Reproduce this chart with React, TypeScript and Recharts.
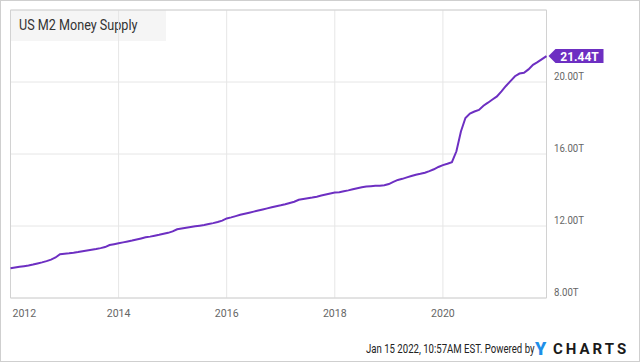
import React from 'react';
import {
  LineChart,
  Line,
  XAxis,
  YAxis,
  CartesianGrid,
  ReferenceArea,
  ReferenceDot,
} from 'recharts';

// M2, trillions USD, monthly
const years = [2012, 2013, 2014, 2015, 2016, 2017, 2018, 2019, 2020, 2021];
const m2_2012 = [9.65, 9.69, 9.73, 9.77, 9.81, 9.86, 9.92, 9.98, 10.05, 10.13, 10.25, 10.43];
const m2_2013 = [10.46, 10.48, 10.51, 10.55, 10.6, 10.64, 10.68, 10.72, 10.77, 10.83, 10.94, 10.99];
const m2_2014 = [11.04, 11.09, 11.14, 11.19, 11.25, 11.31, 11.37, 11.41, 11.46, 11.51, 11.57, 11.62];
const m2_2015 = [11.7, 11.82, 11.86, 11.9, 11.94, 11.98, 12.02, 12.06, 12.11, 12.16, 12.22, 12.3];
const m2_2016 = [12.42, 12.48, 12.55, 12.62, 12.68, 12.74, 12.8, 12.86, 12.92, 12.98, 13.04, 13.1];
const m2_2017 = [13.15, 13.21, 13.28, 13.35, 13.46, 13.5, 13.54, 13.58, 13.63, 13.69, 13.75, 13.81];
const m2_2018 = [13.86, 13.88, 13.93, 13.98, 14.04, 14.1, 14.15, 14.19, 14.21, 14.23, 14.24, 14.26];
const m2_2019 = [14.33, 14.45, 14.56, 14.62, 14.7, 14.78, 14.85, 14.9, 14.96, 15.05, 15.15, 15.28];
const m2_2020 = [15.38, 15.46, 15.55, 16.15, 17.25, 18.0, 18.25, 18.36, 18.45, 18.68, 18.85, 19.03];
const m2_2021 = [19.2, 19.48, 19.78, 20.05, 20.32, 20.47, 20.51, 20.7, 20.95, 21.1, 21.27, 21.44];

const xTicks = [2012, 2014, 2016, 2018, 2020];
const yTicks = [8, 12, 16, 20];

const series = [m2_2012, m2_2013, m2_2014, m2_2015, m2_2016, m2_2017, m2_2018, m2_2019, m2_2020, m2_2021];
const data = years.flatMap((yr, i) => series[i].map((v, m) => ({ t: yr + m / 12, v })));
const last = data[data.length - 1];

const PURPLE = '#6d2fc2';
const FONT = 'Roboto, "Open Sans", sans-serif';

function XTick(props: any) {
  const { x, y, payload } = props;
  const first = payload.value === xTicks[0];
  return (
    <g transform={`translate(${first ? x + 2 : x},${y + 18.5}) scale(0.92,1)`}>
      <text x={0} y={0} textAnchor={first ? 'start' : 'middle'} fill="#666" fontSize={11.5} fontFamily={FONT}>
        {payload.value}
      </text>
    </g>
  );
}

function YTick(props: any) {
  const { x, y, payload } = props;
  return (
    <g transform={`translate(${x + 7.5},${y - 2}) scale(0.84,1)`}>
      <text x={0} y={0} textAnchor="start" fill="#666" fontSize={11.5} fontFamily={FONT}>
        {payload.value.toFixed(2)}T
      </text>
    </g>
  );
}

function LastTag(props: any) {
  const { cx, cy } = props;
  return (
    <g>
      <polygon
        points={`${cx + 2},${cy} ${cx + 9},${cy - 7} ${cx + 57},${cy - 7} ${cx + 57},${cy + 7} ${cx + 9},${cy + 7}`}
        fill={PURPLE}
      />
      <text x={cx + 33} y={cy + 4.5} textAnchor="middle" fill="#fff" fontSize={12} fontWeight={700} fontFamily={FONT}>
        {last.v.toFixed(2)}T
      </text>
    </g>
  );
}

export default function App() {
  return (
    <div
      style={{
        position: 'absolute',
        left: 0,
        top: 0,
        width: 640,
        height: 362,
        boxSizing: 'border-box',
        border: '1px solid #cfcfcf',
        background: '#fff',
        fontFamily: FONT,
      }}
    >
      <div
        style={{
          position: 'absolute',
          left: 10,
          top: 9,
          width: 155,
          height: 31,
          background: '#f5f5f5',
        }}
      />
      <div
        style={{
          position: 'absolute',
          left: 18,
          top: 16,
          fontSize: 14,
          color: '#333',
          whiteSpace: 'nowrap',
          transform: 'scaleX(0.9)',
          transformOrigin: 'left center',
        }}
      >
        US M2 Money Supply
      </div>
      <div style={{ position: 'absolute', left: -1, top: -1 }}>
        <LineChart width={640} height={362} data={data} margin={{ top: 10, right: 33.5, bottom: 34, left: 10.5 }}>
          <CartesianGrid stroke="#e6e6e6" strokeWidth={1} />
          <XAxis
            type="number"
            dataKey="t"
            domain={[2012, last.t]}
            ticks={xTicks}
            axisLine={false}
            tickLine={false}
            tickSize={0}
            tickMargin={0}
            height={30}
            tick={<XTick />}
            interval={0}
          />
          <YAxis
            orientation="right"
            domain={[8, 24]}
            ticks={yTicks}
            axisLine={false}
            tickLine={false}
            tickSize={0}
            tickMargin={0}
            width={60}
            tick={<YTick />}
            interval={0}
          />
          <ReferenceArea
            x1={2012}
            x2={last.t}
            y1={8}
            y2={24}
            fill="none"
            stroke="#d2d2d2"
            strokeWidth={1}
            ifOverflow="visible"
          />
          <Line
            type="linear"
            dataKey="v"
            stroke={PURPLE}
            strokeWidth={2}
            dot={false}
            activeDot={false}
            isAnimationActive={false}
          />
          <ReferenceDot x={last.t} y={last.v} ifOverflow="visible" shape={<LastTag />} />
        </LineChart>
      </div>
      <svg width={640} height={362} style={{ position: 'absolute', left: -1, top: -1, pointerEvents: 'none' }}>
        <g transform="translate(366,352.5) scale(0.8,1)">
          <text x={0} y={0} fontSize={12} fill="#222" fontFamily={FONT}>
            Jan 15 2022, 10:57AM EST.  Powered by
          </text>
        </g>
        <text x={535} y={355} fontSize={18} fontWeight={900} fill="#1e8fe8" fontFamily={FONT}>
          Y
        </text>
        <text x={553} y={354} fontSize={15} fontWeight={700} fill="#1a1a1a" fontFamily={FONT} letterSpacing={3}>
          CHARTS
        </text>
      </svg>
    </div>
  );
}
